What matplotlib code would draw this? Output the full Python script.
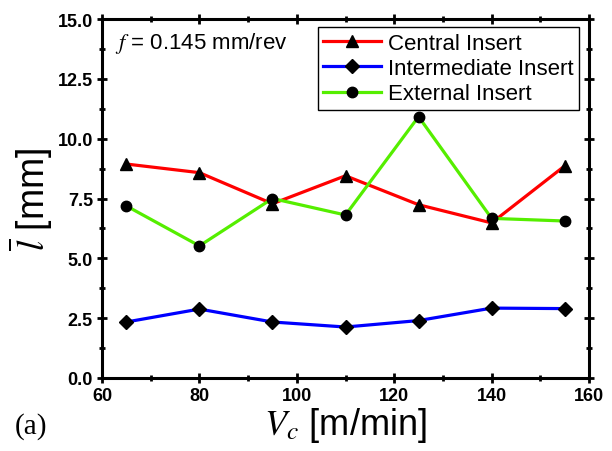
import numpy as np
import matplotlib.pyplot as plt
from matplotlib.ticker import MultipleLocator

plt.rcParams['font.family'] = ['Liberation Sans', 'DejaVu Sans']
plt.rcParams['mathtext.fontset'] = 'stix'

vc = [65, 80, 95, 110, 125, 140, 155]
central = [8.94, 8.58, 7.28, 8.45, 7.24, 6.48, 8.86]
intermediate = [2.34, 2.88, 2.34, 2.13, 2.40, 2.92, 2.90]
external = [7.19, 5.52, 7.50, 6.81, 10.92, 6.67, 6.56]

fig = plt.figure(figsize=(6.12, 4.52), dpi=100)
ax = fig.add_axes([102/612, 1-379/452, 487/612, 359/452])

ax.plot(vc, central, color='#ff0000', lw=2.3, marker='^', ms=8.5, mfc='k', mec='k', label='Central Insert')
ax.plot(vc, intermediate, color='#0000ff', lw=2.3, marker='D', ms=7, mfc='k', mec='k', label='Intermediate Insert')
ax.plot(vc, external, color='#55ee00', lw=2.3, marker='o', ms=7.5, mfc='k', mec='k', label='External Insert')

ax.set_xlim(60, 160)
ax.set_ylim(0, 15)
ax.xaxis.set_major_locator(MultipleLocator(20))
ax.xaxis.set_minor_locator(MultipleLocator(10))
ax.yaxis.set_major_locator(MultipleLocator(2.5))
ax.yaxis.set_minor_locator(MultipleLocator(1.25))
ax.yaxis.set_major_formatter(plt.FormatStrFormatter('%.1f'))
ax.tick_params(which='both', direction='inout', top=True, right=True, width=2,
               labeltop=False, labelright=False)
ax.tick_params(which='major', length=7)
ax.tick_params(which='minor', length=5)
ax.tick_params(axis='both', labelsize=13, pad=3)
for lab in ax.get_xticklabels() + ax.get_yticklabels():
    lab.set_fontweight('bold')
for s in ax.spines.values():
    s.set_linewidth(2.2)

ax.set_xlabel(r'$V_c$ [m/min]', fontsize=26, labelpad=1)
ax.set_ylabel(r'$\overline{l}$ [mm]', fontsize=27, labelpad=2)

ax.text(0.027, 0.97, r'$f$ = 0.145 mm/rev', transform=ax.transAxes, fontsize=16, va='top', ha='left')
fig.text(15/612, 1-440/452, '(a)', fontsize=21, family='Liberation Serif', va='bottom', ha='left')

leg = ax.legend(loc='upper right', bbox_to_anchor=(1 - 10/487, 1 - 8/359), fontsize=16, frameon=True,
                fancybox=False, edgecolor='k', handlelength=2.6, borderpad=0.25,
                labelspacing=0.2, handletextpad=0.3, borderaxespad=0, framealpha=1)
leg.get_frame().set_linewidth(1)

fig.savefig('out.png', dpi=100)
